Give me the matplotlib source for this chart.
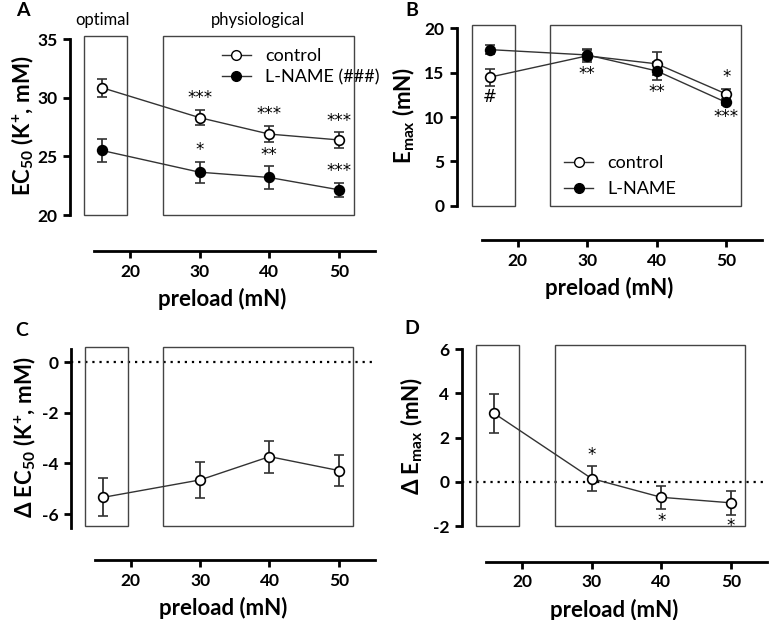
import matplotlib.pyplot as plt
from matplotlib.patches import Rectangle
from matplotlib.lines import Line2D

plt.rcParams['font.family'] = ['Lato', 'DejaVu Sans']
plt.rcParams['mathtext.fontset'] = 'custom'
plt.rcParams['mathtext.rm'] = 'Lato'
plt.rcParams['mathtext.bf'] = 'Lato:bold'
plt.rcParams['mathtext.default'] = 'regular'
plt.rcParams['axes.unicode_minus'] = False

# Data.
preload = [16, 30, 40, 50]

ec50_control = [30.85, 28.3, 26.9, 26.4]
ec50_control_sem = [0.75, 0.65, 0.7, 0.65]
ec50_lname = [25.5, 23.65, 23.2, 22.15]
ec50_lname_sem = [0.95, 0.9, 0.95, 0.6]

emax_control = [14.5, 16.9, 16.0, 12.6]
emax_control_sem = [0.95, 0.75, 1.3, 0.6]
emax_lname = [17.6, 17.0, 15.2, 11.65]
emax_lname_sem = [0.5, 0.6, 1.0, 0.3]

d_ec50 = [-5.34, -4.65, -3.73, -4.28]
d_ec50_sem = [0.75, 0.72, 0.63, 0.62]
d_emax = [3.1, 0.15, -0.7, -0.95]
d_emax_sem = [0.88, 0.55, 0.52, 0.53]

# Significance marks (text, side of error bar).
ec50_control_sig = ["", "***", "***", "***"]
ec50_lname_sig = ["", "*", "**", "***"]
emax_control_sig = [("#", "below"), ("**", "below"), ("", ""), ("*", "above")]
emax_lname_sig = [("", ""), ("", ""), ("**", "below"), ("***", "below")]
d_emax_sig = [("", ""), ("*", "above"), ("*", "below"), ("*", "below")]

xticks = [20, 30, 40, 50]
box_optimal = (13.4, 19.6)
box_physio = (24.7, 52.1)

LINE = "#333333"


def style_axis(ax, xlim, ylim, ybounds, yticks, offset):
    ax.set_xlim(*xlim)
    ax.set_ylim(*ylim)
    for s in ["top", "right"]:
        ax.spines[s].set_visible(False)
    ax.spines["left"].set_linewidth(2)
    ax.spines["left"].set_bounds(*ybounds)
    ax.spines["bottom"].set_linewidth(2)
    ax.spines["bottom"].set_bounds(14.9, xlim[1])
    ax.spines["bottom"].set_position(("outward", offset))
    ax.set_xticks(xticks)
    ax.set_yticks(yticks)
    ax.tick_params(width=2, length=5, labelsize=12.5, pad=4)
    for lab in ax.get_xticklabels() + ax.get_yticklabels():
        lab.set_fontweight("bold")
    ax.set_xlabel("preload (mN)", fontsize=16, fontweight="bold", labelpad=6)


def draw_boxes(ax, y0, y1):
    for x0, x1 in [box_optimal, box_physio]:
        ax.add_patch(Rectangle((x0, y0), x1 - x0, y1 - y0, fill=False,
                               edgecolor="#444444", linewidth=1.0,
                               clip_on=False, zorder=1))


def series(ax, y, sem, filled):
    ax.errorbar(preload, y, yerr=sem, color=LINE, linewidth=1, elinewidth=1.3,
                capsize=3.5, capthick=1.3, marker="o", markersize=7,
                markerfacecolor="black" if filled else "white",
                markeredgecolor="black", markeredgewidth=1.2, zorder=3)


def sig(ax, x, y, s, text, side):
    if not text:
        return
    if side == "above":
        ax.annotate(text, (x, y + s), xytext=(0, 2), textcoords="offset points",
                    ha="center", va="bottom", fontsize=12, family="DejaVu Sans")
    else:
        ax.annotate(text, (x, y - s), xytext=(0, -2), textcoords="offset points",
                    ha="center", va="top", fontsize=12, family="DejaVu Sans")


fig = plt.figure(figsize=(7.74, 6.2), dpi=100)

# Panel A
axA = fig.add_axes([0.0904, 0.6532, 0.394, 0.2895])
style_axis(axA, (11.39, 55.17), (20, 35.3), (20, 35), [20, 25, 30, 35], 26)
draw_boxes(axA, 20, 35.25)
series(axA, ec50_control, ec50_control_sem, False)
series(axA, ec50_lname, ec50_lname_sem, True)
for i, x in enumerate(preload):
    sig(axA, x, ec50_control[i], ec50_control_sem[i], ec50_control_sig[i], "above")
    sig(axA, x, ec50_lname[i], ec50_lname_sem[i], ec50_lname_sig[i], "above")
axA.set_ylabel("EC$_{50}$ (K$^{+}$, mM)", fontsize=16, fontweight="bold")
axA.yaxis.set_label_coords(-0.11, 0.5)
axA.text(16.1, 35.9, "optimal", ha="center", va="bottom", fontsize=12)
axA.text(38.4, 35.9, "physiological", ha="center", va="bottom", fontsize=12)
hA = [Line2D([], [], color=LINE, lw=1, marker="o", ms=7, mfc="white", mec="black"),
      Line2D([], [], color=LINE, lw=1, marker="o", ms=7, mfc="black", mec="black")]
axA.legend(hA, ["control", "L-NAME (###)"], loc="upper left", bbox_to_anchor=(0.445, 1.02),
           frameon=False, fontsize=13, handlelength=1.6, labelspacing=0.3,
           handletextpad=0.8)

# Panel B
axB = fig.add_axes([0.590, 0.6682, 0.394, 0.2918])
style_axis(axB, (11.2, 55.1), (0, 20.4), (0, 20), [0, 5, 10, 15, 20], 25)
draw_boxes(axB, 0, 20.37)
series(axB, emax_control, emax_control_sem, False)
series(axB, emax_lname, emax_lname_sem, True)
for i, x in enumerate(preload):
    t, side = emax_control_sig[i]
    sig(axB, x, emax_control[i], emax_control_sem[i], t, side)
    t, side = emax_lname_sig[i]
    sig(axB, x, emax_lname[i], emax_lname_sem[i], t, side)
axB.set_ylabel("E$_{max}$ (mN)", fontsize=16, fontweight="bold")
axB.yaxis.set_label_coords(-0.13, 0.5)
axB.legend(hA, ["control", "L-NAME"], loc="upper left", bbox_to_anchor=(0.30, 0.37),
           frameon=False, fontsize=13, handlelength=1.6, labelspacing=0.55,
           handletextpad=0.8)

# Panel C
axC = fig.add_axes([0.0917, 0.1479, 0.3928, 0.2929])
style_axis(axC, (11.4, 55.2), (-6.56, 0.61), (-6.56, 0.51), [-6, -4, -2, 0], 23)
draw_boxes(axC, -6.45, 0.61)
axC.axhline(0, color="black", linestyle=(0, (1, 2.2)), linewidth=1.6, zorder=0)
series(axC, d_ec50, d_ec50_sem, False)
axC.set_ylabel("Δ EC$_{50}$ (K$^{+}$, mM)", fontsize=16, fontweight="bold")
axC.yaxis.set_label_coords(-0.11, 0.5)

# Panel D
axD = fig.add_axes([0.5965, 0.1516, 0.3941, 0.2921])
style_axis(axD, (11.34, 55.15), (-2, 6.2), (-2, 6), [-2, 0, 2, 4, 6], 25.7)
draw_boxes(axD, -2, 6.2)
axD.axhline(0, color="black", linestyle=(0, (1, 2.2)), linewidth=1.6, zorder=0)
series(axD, d_emax, d_emax_sem, False)
for i, x in enumerate(preload):
    t, side = d_emax_sig[i]
    sig(axD, x, d_emax[i], d_emax_sem[i], t, side)
axD.set_ylabel("Δ E$_{max}$ (mN)", fontsize=16, fontweight="bold")
axD.yaxis.set_label_coords(-0.12, 0.5)

# Panel letters
for lbl, x, y in [("A", 23, 10), ("B", 412, 10), ("C", 22, 330), ("D", 412, 328)]:
    fig.text(x / 774, 1 - y / 620, lbl, fontsize=14, fontweight="bold",
             ha="center", va="center")

fig.savefig("out.png", dpi=100)
